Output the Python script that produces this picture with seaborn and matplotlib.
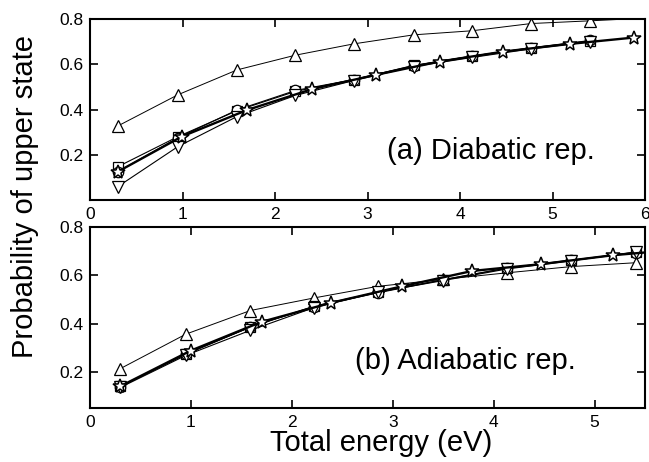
import matplotlib
matplotlib.use("Agg")
import matplotlib.pyplot as plt
import seaborn as sns
import pandas as pd

# ---- data ----
x_main = [0.30, 0.95, 1.59, 2.22, 2.85, 3.50, 4.13, 4.77, 5.41]
x_up_a = [0.30, 0.95, 1.59, 2.22, 2.85, 3.50, 4.13, 4.77, 5.41, 6.05]
x_star_a = [0.30, 0.99, 1.70, 2.40, 3.09, 3.78, 4.47, 5.19, 5.88]

tri_up_a = [0.327, 0.465, 0.575, 0.640, 0.690, 0.730, 0.748, 0.780, 0.792, 0.805]
square_a = [0.147, 0.280, 0.395, 0.480, 0.532, 0.595, 0.636, 0.672, 0.703]
circle_a = [0.125, 0.275, 0.398, 0.484, 0.532, 0.594, 0.636, 0.673, 0.705]
tri_down_a = [0.059, 0.236, 0.369, 0.462, 0.528, 0.590, 0.630, 0.668, 0.700]
star_a = [0.125, 0.280, 0.398, 0.490, 0.553, 0.612, 0.656, 0.690, 0.718]

x_star_b = [0.30, 1.00, 1.70, 2.39, 3.09, 3.79, 4.47, 5.18, 5.88]
tri_up_b = [0.213, 0.356, 0.454, 0.506, 0.554, 0.583, 0.610, 0.636, 0.652]
square_b = [0.140, 0.275, 0.385, 0.472, 0.530, 0.582, 0.630, 0.663, 0.695]
circle_b = [0.139, 0.272, 0.386, 0.470, 0.527, 0.581, 0.629, 0.662, 0.693]
tri_down_b = [0.135, 0.268, 0.372, 0.466, 0.530, 0.578, 0.626, 0.660, 0.697]
star_b = [0.140, 0.288, 0.407, 0.486, 0.554, 0.618, 0.646, 0.683, 0.708]

xticks_a = [0, 1, 2, 3, 4, 5, 6]
xticks_b = [0, 1, 2, 3, 4, 5]
yticks = [0.2, 0.4, 0.6, 0.8]

sns.set_style("ticks")
plt.rcParams["font.family"] = ["Liberation Sans", "DejaVu Sans"]
plt.rcParams["text.color"] = "black"
plt.rcParams["axes.labelcolor"] = "black"

W, H = 649, 462
fig = plt.figure(figsize=(W / 100, H / 100), dpi=100)


def ax_rect(left, top, right, bottom):
    return [left / W, 1 - bottom / H, (right - left) / W, (bottom - top) / H]


ax_a = fig.add_axes(ax_rect(90, 19, 645, 200))
ax_b = fig.add_axes(ax_rect(90, 227, 645, 408))


def draw(ax, x, y, marker, lw, ms, mew=0.9):
    sns.lineplot(x=x, y=y, ax=ax, sort=False, color="black", linewidth=lw,
                 marker=marker, markersize=ms, markerfacecolor="white",
                 markeredgecolor="black", markeredgewidth=mew,
                 clip_on=True, estimator=None)


for ax, up, xu, sq, ci, td, st, xs in [
    (ax_a, tri_up_a, x_up_a, square_a, circle_a, tri_down_a, star_a, x_star_a),
    (ax_b, tri_up_b, x_main, square_b, circle_b, tri_down_b, star_b, x_star_b),
]:
    draw(ax, xu, up, "^", 0.7, 9)
    draw(ax, x_main, sq, "s", 0.8, 7)
    draw(ax, x_main, ci, "o", 0.8, 7.5)
    draw(ax, x_main, td, "v", 0.8, 9)
    draw(ax, xs, st, "*", 1.7, 10.5, 1.1)

ax_a.set_xlim(0, 6)
ax_a.set_ylim(0, 0.8)
ax_a.set_xticks(xticks_a)
ax_a.set_xticklabels([str(t) for t in xticks_a])
ax_b.set_xlim(0, 5.5)
ax_b.set_ylim(0.05, 0.8)
ax_b.set_xticks(xticks_b)
ax_b.set_xticklabels([str(t) for t in xticks_b])

for ax in (ax_a, ax_b):
    ax.set_yticks(yticks)
    ax.set_yticklabels([f"{t:.1f}" for t in yticks])
    ax.tick_params(direction="in", top=True, right=True, length=6, width=1.2,
                   labelsize=12.5, pad=5, colors="black")
    for s in ax.spines.values():
        s.set_visible(True)
        s.set_linewidth(1.5)
        s.set_color("black")
    ax.set_xlabel("")
    ax.set_ylabel("")

ax_a.text(0.535, 0.27, "(a) Diabatic rep.", transform=ax_a.transAxes,
          fontsize=21, ha="left", va="center", color="black")
ax_b.text(0.478, 0.26, "(b) Adiabatic rep.", transform=ax_b.transAxes,
          fontsize=21, ha="left", va="center", color="black")

fig.text(381 / W, 1 - 443 / H, "Total energy (eV)", fontsize=21,
         ha="center", va="center", color="black")
fig.text(25 / W, 1 - 196 / H, "Probability of upper state", fontsize=21,
         rotation=90, ha="center", va="center", color="black")

fig.savefig("out.png", dpi=100)
